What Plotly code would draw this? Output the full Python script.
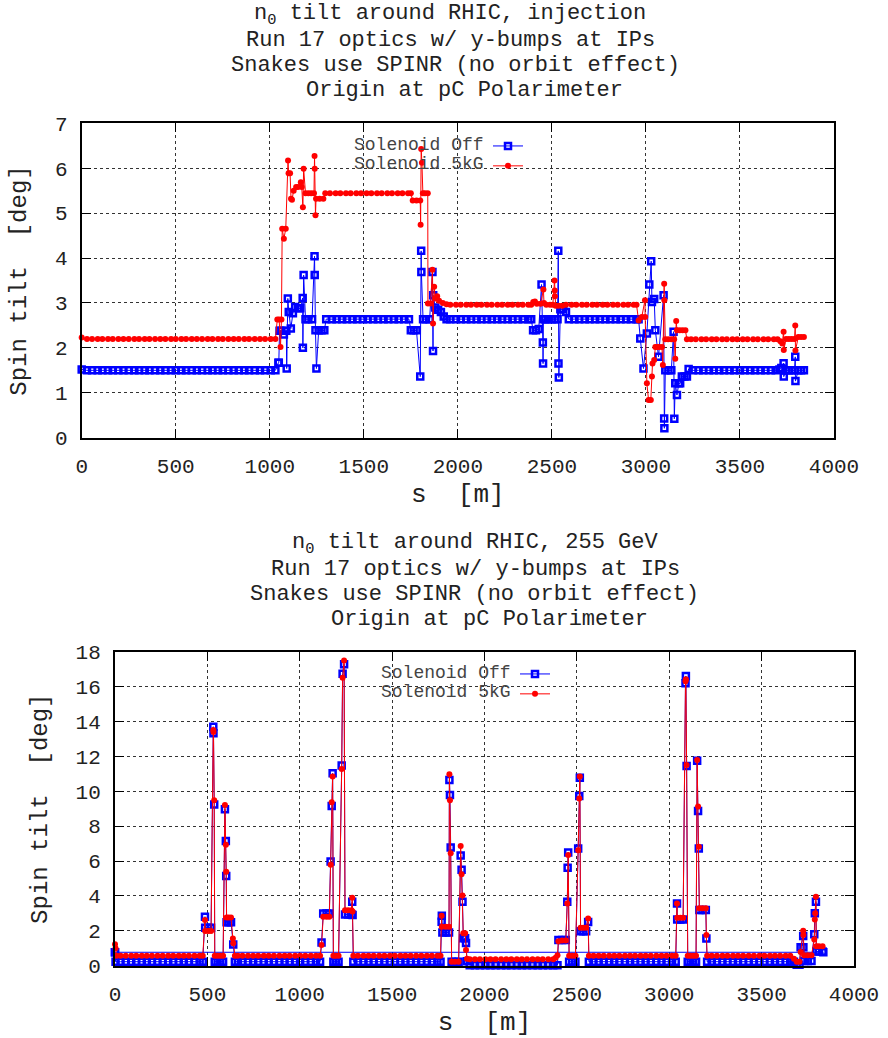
import plotly.graph_objects as go

# ---------------- data (s [m], spin tilt [deg]) ----------------
top_off = [
    (0, 1.52), (28, 1.5), (55, 1.5), (85, 1.5), (110, 1.5), (140, 1.5), (165, 1.5), (195, 1.5),
    (222, 1.5), (250, 1.5), (280, 1.5), (305, 1.5), (335, 1.5), (360, 1.5), (390, 1.5), (418, 1.5),
    (445, 1.5), (475, 1.5), (500, 1.5), (530, 1.5), (555, 1.5), (585, 1.5), (612, 1.5), (640, 1.5),
    (670, 1.5), (695, 1.5), (725, 1.5), (750, 1.5), (780, 1.5), (808, 1.5), (835, 1.5), (865, 1.5),
    (890, 1.5), (920, 1.5), (948, 1.5), (975, 1.5), (1005, 1.5), (1030, 1.5),
    (1046, 1.67), (1048, 1.67), (1052, 2.38), (1062, 2.38), (1075, 2.30), (1088, 2.38), (1090, 1.54),
    (1096, 3.10), (1101, 2.80), (1112, 2.43), (1123, 2.77), (1135, 2.91), (1150, 2.88), (1162, 2.88),
    (1175, 3.11), (1176, 2.00), (1180, 3.62), (1190, 2.64), (1205, 2.64), (1225, 2.64), (1238, 4.04),
    (1239, 3.62), (1243, 2.39), (1248, 1.54), (1260, 2.39), (1275, 2.39), (1290, 2.39),
    (1300, 2.64), (1330, 2.64), (1355, 2.64), (1385, 2.64), (1410, 2.64), (1440, 2.64), (1465, 2.64),
    (1495, 2.64), (1520, 2.64), (1550, 2.64), (1575, 2.64), (1605, 2.64), (1630, 2.64), (1660, 2.64),
    (1685, 2.64), (1715, 2.64), (1740, 2.64),
    (1750, 2.39), (1765, 2.39), (1780, 2.39), (1800, 1.36), (1805, 4.16), (1806, 3.69), (1815, 2.64),
    (1830, 2.64), (1850, 2.64), (1865, 3.69), (1868, 1.93), (1869, 3.17), (1880, 2.90), (1895, 2.85),
    (1910, 2.80), (1925, 2.70), (1940, 2.64),
    (1960, 2.64), (1990, 2.64), (2015, 2.64), (2045, 2.64), (2070, 2.64), (2100, 2.64), (2125, 2.64),
    (2155, 2.64), (2180, 2.64), (2210, 2.64), (2235, 2.64), (2265, 2.64), (2290, 2.64), (2320, 2.64),
    (2345, 2.64), (2375, 2.64), (2390, 2.64),
    (2400, 2.39), (2415, 2.39), (2430, 2.42), (2445, 3.41), (2452, 2.12), (2453, 1.65), (2455, 2.64),
    (2465, 2.64), (2480, 2.64), (2500, 2.64), (2515, 2.64), (2530, 2.64), (2534, 4.16), (2535, 1.65),
    (2537, 1.34), (2545, 2.86), (2560, 2.86), (2575, 2.80),
    (2590, 2.64), (2620, 2.64), (2645, 2.64), (2675, 2.64), (2700, 2.64), (2730, 2.64), (2755, 2.64),
    (2785, 2.64), (2810, 2.64), (2840, 2.64), (2865, 2.64), (2895, 2.64), (2920, 2.64), (2950, 2.64),
    (2961, 2.64),
    (2970, 2.21), (2987, 1.54), (3005, 2.32), (3018, 3.41), (3028, 3.93), (3032, 3.02), (3044, 3.09),
    (3050, 2.39), (3067, 1.80), (3094, 3.17), (3097, 0.43), (3098, 0.21), (3103, 1.50), (3120, 1.50),
    (3135, 1.50), (3147, 2.36), (3151, 0.42), (3156, 1.21), (3165, 0.95), (3175, 1.21), (3182, 1.21),
    (3191, 1.36), (3205, 1.36), (3218, 1.36), (3227, 1.53),
    (3250, 1.5), (3280, 1.5), (3305, 1.5), (3335, 1.5), (3360, 1.5), (3390, 1.5), (3415, 1.5),
    (3445, 1.5), (3470, 1.5), (3500, 1.5), (3525, 1.5), (3555, 1.5), (3580, 1.5), (3610, 1.5),
    (3635, 1.5), (3665, 1.5), (3690, 1.5), (3710, 1.52), (3720, 1.55), (3732, 1.66), (3733, 1.36),
    (3745, 1.5), (3760, 1.5), (3775, 1.5), (3790, 1.5), (3794, 1.80), (3795, 1.26), (3810, 1.5),
    (3825, 1.5), (3840, 1.5),
]

top_5kg = [
    (0, 2.23), (28, 2.2), (55, 2.2), (85, 2.2), (110, 2.2), (140, 2.2), (165, 2.2), (195, 2.2),
    (222, 2.2), (250, 2.2), (280, 2.2), (305, 2.2), (335, 2.2), (360, 2.2), (390, 2.2), (418, 2.2),
    (445, 2.2), (475, 2.2), (500, 2.2), (530, 2.2), (555, 2.2), (585, 2.2), (612, 2.2), (640, 2.2),
    (670, 2.2), (695, 2.2), (725, 2.2), (750, 2.2), (780, 2.2), (808, 2.2), (835, 2.2), (865, 2.2),
    (890, 2.2), (920, 2.2), (948, 2.2), (975, 2.2), (1005, 2.2), (1030, 2.2),
    (1040, 2.63), (1050, 2.63), (1057, 2.02), (1062, 2.63), (1066, 4.65), (1075, 4.43), (1085, 4.65),
    (1097, 6.17), (1100, 5.89), (1108, 5.89), (1113, 5.32), (1118, 5.30), (1127, 5.50), (1140, 5.58),
    (1150, 5.58), (1165, 5.69), (1170, 5.58), (1176, 5.13), (1180, 5.99), (1190, 5.44), (1205, 5.44),
    (1220, 5.44), (1235, 5.44), (1238, 6.27), (1239, 5.99), (1243, 4.95), (1246, 5.32), (1265, 5.32),
    (1285, 5.32),
    (1295, 5.44), (1320, 5.44), (1350, 5.44), (1375, 5.44), (1405, 5.44), (1430, 5.44), (1460, 5.44),
    (1485, 5.44), (1515, 5.44), (1540, 5.44), (1570, 5.44), (1595, 5.44), (1625, 5.44), (1650, 5.44),
    (1680, 5.44), (1705, 5.44), (1735, 5.44), (1750, 5.44),
    (1760, 5.28), (1780, 5.28), (1800, 5.28), (1802, 4.74), (1805, 6.43), (1809, 6.12), (1814, 5.44),
    (1825, 5.44), (1840, 5.44), (1841, 2.99), (1855, 2.99), (1865, 3.74), (1868, 2.54), (1874, 3.36),
    (1880, 3.10), (1890, 3.15), (1900, 3.05), (1920, 3.00), (1940, 2.97),
    (1960, 2.96), (1990, 2.96), (2015, 2.96), (2045, 2.96), (2070, 2.96), (2100, 2.96), (2125, 2.96),
    (2155, 2.96), (2180, 2.96), (2210, 2.96), (2235, 2.96), (2265, 2.96), (2290, 2.96), (2320, 2.96),
    (2345, 2.96), (2375, 2.96), (2390, 2.96),
    (2401, 3.02), (2410, 3.03), (2420, 2.98), (2440, 2.98), (2455, 3.30), (2458, 3.00), (2470, 2.96),
    (2490, 2.96), (2505, 2.96), (2514, 3.50), (2515, 3.28), (2516, 3.15), (2520, 2.94), (2535, 2.94),
    (2555, 2.94),
    (2575, 2.96), (2605, 2.96), (2630, 2.96), (2660, 2.96), (2685, 2.96), (2715, 2.96), (2740, 2.96),
    (2770, 2.96), (2795, 2.96), (2825, 2.96), (2850, 2.96), (2880, 2.96), (2905, 2.96), (2935, 2.96),
    (2950, 2.96),
    (2961, 2.61), (2978, 2.69), (2995, 3.06), (2996, 2.69), (3005, 1.21), (3014, 0.84), (3026, 0.84),
    (3032, 1.36), (3035, 1.65), (3044, 1.73), (3050, 2.02), (3058, 2.02), (3070, 2.02), (3085, 2.02),
    (3090, 1.62), (3097, 3.43), (3098, 3.06), (3103, 2.19), (3118, 2.19), (3135, 2.19), (3150, 2.19),
    (3156, 1.76), (3161, 2.60), (3165, 2.39), (3180, 2.39), (3195, 2.39), (3210, 2.39), (3218, 2.19),
    (3240, 2.19), (3265, 2.19), (3295, 2.19), (3320, 2.19), (3350, 2.19), (3375, 2.19), (3405, 2.19),
    (3430, 2.19), (3460, 2.19), (3485, 2.19), (3515, 2.19), (3540, 2.19), (3570, 2.19), (3595, 2.19),
    (3625, 2.19), (3650, 2.19), (3680, 2.19), (3700, 2.19),
    (3715, 2.15), (3725, 2.10), (3732, 2.36), (3733, 1.95), (3745, 2.2), (3760, 2.2), (3775, 2.2),
    (3790, 2.2), (3794, 2.50), (3795, 1.94), (3810, 2.24), (3825, 2.24), (3840, 2.24),
]

bot_off = [
    (0, 0.77), (3, 0.23), (30, 0.23), (58, 0.23), (88, 0.23), (115, 0.23), (145, 0.23), (172, 0.23),
    (200, 0.23), (230, 0.23), (258, 0.23), (288, 0.23), (315, 0.23), (345, 0.23), (372, 0.23),
    (400, 0.23), (430, 0.23), (458, 0.23), (475, 0.23),
    (487, 2.81), (488, 2.18), (505, 2.18), (520, 2.18), (532, 13.70), (533, 13.32), (537, 9.24),
    (540, 0.23), (555, 0.23), (570, 0.23), (585, 0.23), (595, 8.97), (600, 7.15), (602, 5.14),
    (604, 2.49), (615, 2.49), (628, 2.49), (640, 1.22), (649, 0.23),
    (665, 0.23), (690, 0.23), (720, 0.23), (748, 0.23), (775, 0.23), (805, 0.23), (832, 0.23),
    (860, 0.23), (890, 0.23), (918, 0.23), (945, 0.23), (975, 0.23), (1002, 0.23), (1030, 0.23),
    (1060, 0.23), (1088, 0.23), (1110, 0.23),
    (1118, 1.33), (1127, 2.99), (1145, 2.99), (1160, 2.99), (1167, 5.98), (1173, 9.15), (1178, 11.03),
    (1182, 0.23), (1195, 0.23), (1210, 0.23), (1227, 11.47), (1232, 16.74), (1240, 17.28),
    (1245, 2.93), (1262, 2.93), (1280, 2.93), (1284, 3.67), (1286, 2.90), (1290, 0.23),
    (1315, 0.23), (1345, 0.23), (1372, 0.23), (1400, 0.23), (1430, 0.23), (1458, 0.23), (1488, 0.23),
    (1515, 0.23), (1545, 0.23), (1572, 0.23), (1600, 0.23), (1630, 0.23), (1658, 0.23), (1688, 0.23),
    (1715, 0.23), (1745, 0.23), (1762, 0.23),
    (1768, 2.52), (1769, 2.86), (1772, 1.91), (1790, 1.91), (1808, 1.91), (1810, 10.65), (1813, 9.79),
    (1817, 6.77), (1822, 0.23), (1840, 0.23), (1860, 0.23), (1871, 6.32), (1876, 5.50), (1881, 3.67),
    (1885, 1.57), (1895, 1.57), (1900, 1.30), (1905, 0.25),
    (1920, 0.03), (1948, 0.03), (1975, 0.03), (2005, 0.03), (2032, 0.03), (2060, 0.03), (2090, 0.03),
    (2118, 0.03), (2145, 0.03), (2175, 0.03), (2202, 0.03), (2230, 0.03), (2260, 0.03), (2288, 0.03),
    (2315, 0.03), (2345, 0.03), (2372, 0.03), (2395, 0.03),
    (2400, 1.47), (2420, 1.47), (2440, 1.47), (2448, 3.67), (2450, 5.62), (2453, 6.49), (2458, 0.23),
    (2475, 0.23), (2492, 0.23), (2507, 6.72), (2513, 9.73), (2516, 10.78), (2520, 1.97), (2535, 1.97),
    (2550, 1.97), (2561, 2.50), (2565, 0.23),
    (2590, 0.23), (2618, 0.23), (2645, 0.23), (2675, 0.23), (2702, 0.23), (2730, 0.23), (2760, 0.23),
    (2788, 0.23), (2815, 0.23), (2845, 0.23), (2872, 0.23), (2900, 0.23), (2930, 0.23), (2958, 0.23),
    (2985, 0.23), (3015, 0.23), (3035, 0.23),
    (3042, 3.57), (3043, 2.65), (3060, 2.65), (3075, 2.65), (3088, 16.19), (3090, 16.61), (3094, 11.45),
    (3100, 0.23), (3115, 0.23), (3130, 0.23), (3145, 0.23), (3151, 11.75), (3156, 8.87), (3160, 6.72),
    (3163, 3.19), (3180, 3.19), (3198, 3.19), (3201, 1.56), (3205, 0.23),
    (3230, 0.23), (3258, 0.23), (3288, 0.23), (3315, 0.23), (3345, 0.23), (3372, 0.23), (3400, 0.23),
    (3430, 0.23), (3458, 0.23), (3488, 0.23), (3515, 0.23), (3545, 0.23), (3572, 0.23), (3600, 0.23),
    (3630, 0.23), (3655, 0.23), (3675, 0.23),
    (3690, 0.05), (3705, 0.05), (3711, 1.06), (3725, 1.70), (3726, 1.06), (3730, 0.27), (3750, 0.27),
    (3770, 0.27), (3785, 1.80), (3788, 3.00), (3794, 3.67), (3796, 0.81), (3810, 0.81), (3830, 0.81),
    (3834, 0.77), (0, 0.77),
]

bot_5kg = [
    (0, 1.23), (3, 1.00), (8, 0.57), (30, 0.57), (58, 0.57), (88, 0.57), (115, 0.57), (145, 0.57),
    (172, 0.57), (200, 0.57), (230, 0.57), (258, 0.57), (288, 0.57), (315, 0.57), (345, 0.57),
    (372, 0.57), (400, 0.57), (430, 0.57), (458, 0.57), (475, 0.57),
    (487, 2.62), (488, 1.99), (505, 1.99), (520, 1.99), (532, 13.51), (533, 13.40), (537, 9.49),
    (540, 0.57), (555, 0.57), (570, 0.57), (585, 0.57), (595, 9.21), (600, 6.93), (602, 5.39),
    (604, 2.76), (615, 2.76), (628, 2.76), (638, 1.56), (640, 1.28), (649, 0.57),
    (665, 0.57), (690, 0.57), (720, 0.57), (748, 0.57), (775, 0.57), (805, 0.57), (832, 0.57),
    (860, 0.57), (890, 0.57), (918, 0.57), (945, 0.57), (975, 0.57), (1002, 0.57), (1030, 0.57),
    (1060, 0.57), (1088, 0.57), (1110, 0.57),
    (1118, 1.18), (1127, 2.80), (1145, 2.80), (1160, 2.80), (1167, 5.78), (1173, 9.37), (1178, 10.84),
    (1182, 0.57), (1195, 0.57), (1210, 0.57), (1227, 11.27), (1232, 16.50), (1240, 17.49),
    (1245, 3.18), (1262, 3.18), (1280, 3.18), (1284, 3.90), (1286, 3.10), (1290, 0.57),
    (1315, 0.57), (1345, 0.57), (1372, 0.57), (1400, 0.57), (1430, 0.57), (1458, 0.57), (1488, 0.57),
    (1515, 0.57), (1545, 0.57), (1572, 0.57), (1600, 0.57), (1630, 0.57), (1658, 0.57), (1688, 0.57),
    (1715, 0.57), (1745, 0.57), (1762, 0.57),
    (1768, 2.86), (1769, 2.23), (1790, 2.23), (1808, 2.23), (1810, 10.97), (1813, 9.49), (1817, 6.45),
    (1822, 0.23), (1840, 0.23), (1860, 0.23), (1871, 6.86), (1876, 5.24), (1881, 4.02), (1885, 1.86),
    (1895, 1.86), (1900, 0.90), (1905, 0.40),
    (1920, 0.37), (1948, 0.37), (1975, 0.37), (2005, 0.37), (2032, 0.37), (2060, 0.37), (2090, 0.37),
    (2118, 0.37), (2145, 0.37), (2175, 0.37), (2202, 0.37), (2230, 0.37), (2260, 0.37), (2288, 0.37),
    (2315, 0.37), (2345, 0.37), (2372, 0.37), (2385, 0.45), (2395, 0.60),
    (2400, 1.40), (2420, 1.45), (2440, 1.45), (2448, 3.57), (2453, 6.34), (2458, 0.57), (2475, 0.57),
    (2492, 0.57), (2507, 6.62), (2513, 9.59), (2516, 10.84), (2520, 2.18), (2535, 2.18), (2550, 2.18),
    (2561, 2.70), (2565, 0.57),
    (2590, 0.57), (2618, 0.57), (2645, 0.57), (2675, 0.57), (2702, 0.57), (2730, 0.57), (2760, 0.57),
    (2788, 0.57), (2815, 0.57), (2845, 0.57), (2872, 0.57), (2900, 0.57), (2930, 0.57), (2958, 0.57),
    (2985, 0.57), (3015, 0.57), (3035, 0.57),
    (3042, 3.57), (3043, 2.75), (3060, 2.75), (3075, 2.75), (3088, 16.30), (3090, 16.42), (3094, 11.51),
    (3100, 0.57), (3115, 0.57), (3130, 0.57), (3145, 0.57), (3151, 11.79), (3156, 9.12), (3160, 6.82),
    (3163, 3.29), (3180, 3.29), (3198, 3.29), (3201, 1.76), (3205, 0.57),
    (3230, 0.57), (3258, 0.57), (3288, 0.57), (3315, 0.57), (3345, 0.57), (3372, 0.57), (3400, 0.57),
    (3430, 0.57), (3458, 0.57), (3488, 0.57), (3515, 0.57), (3545, 0.57), (3572, 0.57), (3600, 0.57),
    (3630, 0.57), (3655, 0.57), (3675, 0.40),
    (3690, 0.23), (3705, 0.23), (3711, 0.78), (3725, 2.00), (3726, 1.76), (3730, 0.60), (3750, 0.60),
    (3770, 0.60), (3785, 1.50), (3788, 2.65), (3790, 3.00), (3794, 3.95), (3796, 1.12), (3810, 1.12),
    (3830, 1.12),
]

series_names = ["Solenoid Off", "Solenoid 5kG"]
x_ticks = [0, 500, 1000, 1500, 2000, 2500, 3000, 3500, 4000]
top_y_ticks = [0, 1, 2, 3, 4, 5, 6, 7]
bot_y_ticks = [0, 2, 4, 6, 8, 10, 12, 14, 16, 18]
top_title = ["n<sub>0</sub> tilt around RHIC, injection", "Run 17 optics w/ y-bumps at IPs",
             "Snakes use SPINR (no orbit effect)", "Origin at pC Polarimeter"]
bot_title = ["n<sub>0</sub> tilt around RHIC, 255 GeV", "Run 17 optics w/ y-bumps at IPs",
             "Snakes use SPINR (no orbit effect)", "Origin at pC Polarimeter"]

# ---------------- figure ----------------
W, H = 888, 1038
FONT = "Liberation Mono, Courier New, monospace"
BLUE, RED = "#0000ff", "#ff0000"
TXT = "#222222"


def px(x):
    return x / W


def py(y):
    return 1 - y / H


fig = go.Figure()


def add_series(data, color, symbol, size, lw, xa, ya, legend):
    s = [p[0] for p in data]
    v = [p[1] for p in data]
    fig.add_trace(go.Scatter(
        x=s, y=v, mode="lines+markers", xaxis=xa, yaxis=ya, legend=legend,
        name=" ", cliponaxis=False,
        line=dict(color=color, width=1),
        marker=dict(symbol=symbol, size=size, color=color, line=dict(color=color, width=lw)),
    ))


add_series(top_off, BLUE, "square-open", 6, 2.5, "x", "y", "legend")
add_series(top_5kg, RED, "circle", 6, 0, "x", "y", "legend")
add_series(bot_off, BLUE, "square-open", 6, 2.5, "x2", "y2", "legend2")
add_series(bot_5kg, RED, "circle", 6, 0, "x2", "y2", "legend2")

axis_common = dict(
    showline=True, linecolor="black", linewidth=2, mirror="ticks",
    ticks="inside", ticklen=9, tickwidth=1, tickcolor="black",
    showgrid=True, gridcolor="rgba(0,0,0,0.8)", griddash="dot", gridwidth=1,
    zeroline=False, tickfont=dict(family=FONT, size=21, color=TXT),
    ticklabelstandoff=8, automargin=False,
)

top_dom_x = [px(81.7), px(834)]
top_dom_y = [py(437.7), py(123.3)]
bot_dom_x = [px(115), px(854)]
bot_dom_y = [py(965.7), py(651.7)]

fig.update_layout(
    width=W, height=H, margin=dict(l=0, r=0, t=0, b=0, autoexpand=False),
    paper_bgcolor="white", plot_bgcolor="white",
    font=dict(family=FONT, color=TXT),
    xaxis=dict(domain=top_dom_x, anchor="y", range=[0, 4000], tickvals=x_ticks,
               title=dict(text="s  [m]", font=dict(family=FONT, size=26, color=TXT), standoff=6),
               **axis_common),
    yaxis=dict(domain=top_dom_y, anchor="x", range=[0, 7], tickvals=top_y_ticks,
               title=dict(text="Spin tilt  [deg]", font=dict(family=FONT, size=24, color=TXT), standoff=21),
               **axis_common),
    xaxis2=dict(domain=bot_dom_x, anchor="y2", range=[0, 4000], tickvals=x_ticks,
                title=dict(text="s  [m]", font=dict(family=FONT, size=26, color=TXT), standoff=6),
                **axis_common),
    yaxis2=dict(domain=bot_dom_y, anchor="x2", range=[0, 18], tickvals=bot_y_ticks,
                title=dict(text="Spin tilt  [deg]", font=dict(family=FONT, size=24, color=TXT), standoff=21),
                **axis_common),
    legend=dict(x=px(488), y=py(131), xanchor="left", yanchor="top", bgcolor="rgba(0,0,0,0)",
                font=dict(size=13), itemwidth=30, tracegroupgap=0),
    legend2=dict(x=px(515), y=py(659), xanchor="left", yanchor="top", bgcolor="rgba(0,0,0,0)",
                 font=dict(size=13), itemwidth=30, tracegroupgap=0),
    showlegend=True,
)

annotations = []
for txt, xc, yc in zip(top_title, [450, 450, 455, 464], [15, 40, 65, 90]):
    annotations.append(dict(text=txt, x=px(xc), y=py(yc), xref="paper", yref="paper",
                            xanchor="center", yanchor="middle", showarrow=False,
                            font=dict(family=FONT, size=22, color=TXT)))
for txt, xc, yc in zip(bot_title, [476, 475, 474, 489], [544, 569, 594, 619]):
    annotations.append(dict(text=txt, x=px(xc), y=py(yc), xref="paper", yref="paper",
                            xanchor="center", yanchor="middle", showarrow=False,
                            font=dict(family=FONT, size=22, color=TXT)))
for name, yc in zip(series_names, [145, 164]):
    annotations.append(dict(text=name, x=px(486), y=py(yc), xref="paper", yref="paper",
                            xanchor="right", yanchor="middle", showarrow=False,
                            font=dict(family=FONT, size=18, color="#444444")))
for name, yc in zip(series_names, [673, 692]):
    annotations.append(dict(text=name, x=px(513), y=py(yc), xref="paper", yref="paper",
                            xanchor="right", yanchor="middle", showarrow=False,
                            font=dict(family=FONT, size=18, color="#444444")))
fig.update_layout(annotations=annotations)

fig.write_html("out.html")
